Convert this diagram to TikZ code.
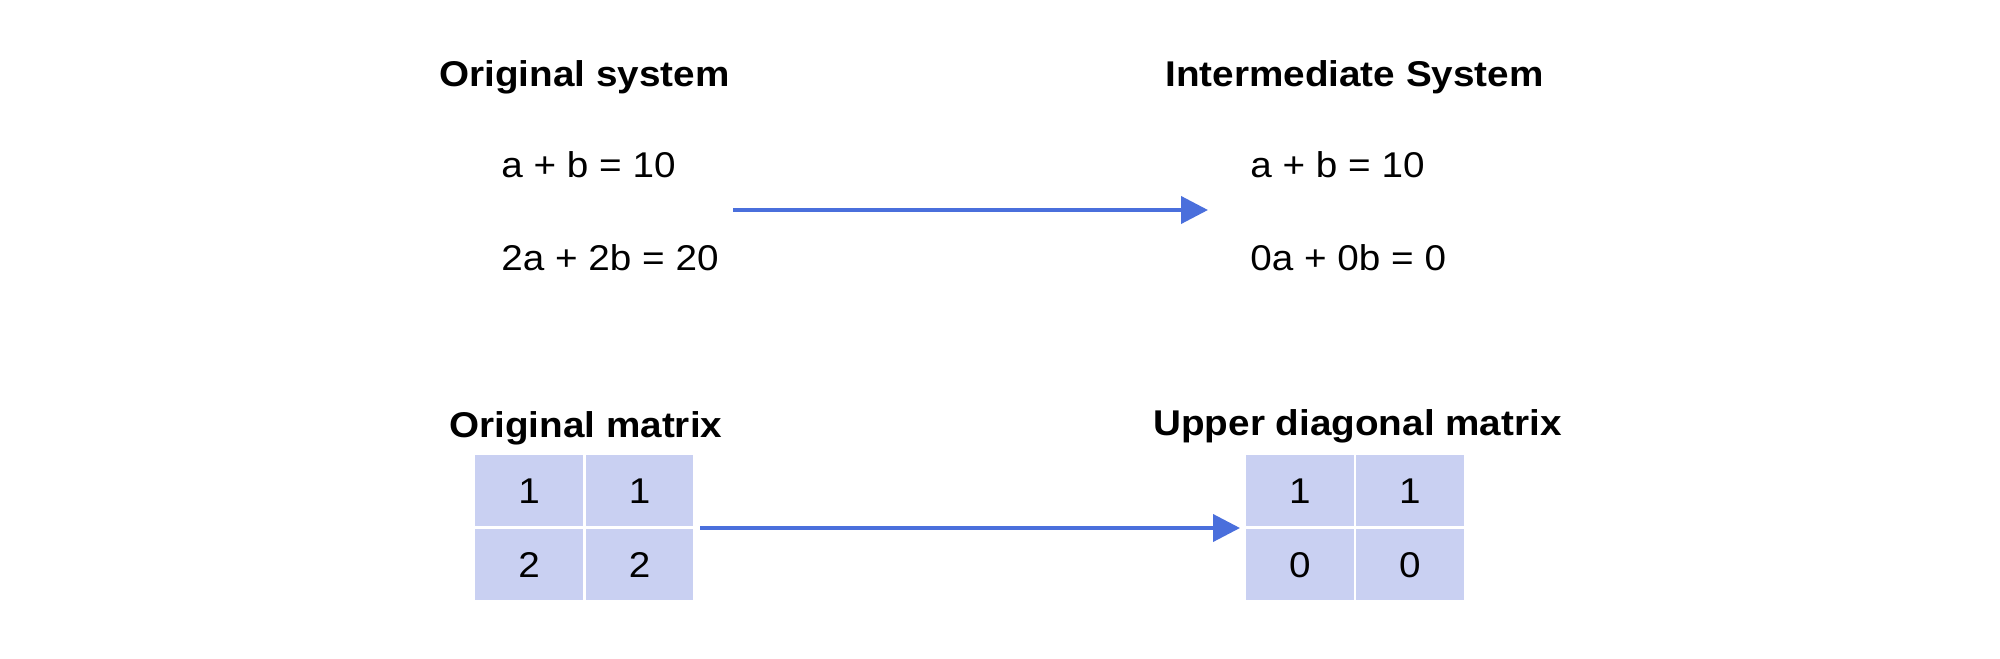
\documentclass[tikz,border=0pt]{standalone}
\usepackage{fontspec}
\setmainfont[FakeStretch=1.08]{Liberation Sans}
\usetikzlibrary{arrows.meta}
\definecolor{arrowblue}{HTML}{4A6FDC}
\definecolor{cellfill}{HTML}{C9D0F2}
\begin{document}
\begin{tikzpicture}[x=0.5pt,y=-0.5pt,
  txt/.style={inner sep=0pt, anchor=base west, font=\fontsize{17.9pt}{21pt}\selectfont},
  ttl/.style={inner sep=0pt, anchor=base west, font=\fontsize{17.9pt}{21pt}\selectfont\bfseries},
  cell/.style={fill=cellfill, draw=none, inner sep=0pt, minimum width=53.75pt, minimum height=35.6pt, font=\fontsize{17.9pt}{21pt}\selectfont},
  flow/.style={draw=arrowblue, line width=2pt, -{Triangle[length=13.5pt,width=13.5pt]}}]
\useasboundingbox (0,0) rectangle (2000,658);
\fill[white] (0,0) rectangle (2000,658);
% top: systems
\node[ttl] (t1) at (439,87) {Original system};
\node[txt] (e1) at (501,177) {a + b = 10};
\node[txt] (e2) at (501,270) {2a + 2b = 20};
\node[ttl] (t2) at (1165,87) {Intermediate System};
\node[txt] (e3) at (1250,177) {a + b = 10};
\node[txt] (e4) at (1250,270) {0a + 0b = 0};
\coordinate (a1s) at (733,210);
\coordinate (a1e) at (1208,210);
\draw[flow] (a1s) -- (a1e);
% bottom: matrices
\node[ttl] (t3) at (449,437) {Original matrix};
\node[ttl] (t4) at (1153,435) {Upper diagonal matrix};
\node[cell] (l11) at (529,490.75) {1};
\node[cell] (l12) at (639.5,490.75) {1};
\node[cell] (l21) at (529,564.75) {2};
\node[cell] (l22) at (639.5,564.75) {2};
\node[cell] (r11) at (1299.75,490.75) {1};
\node[cell] (r12) at (1409.75,490.75) {1};
\node[cell] (r21) at (1299.75,564.75) {0};
\node[cell] (r22) at (1409.75,564.75) {0};
\coordinate (a2s) at (700,528);
\coordinate (a2e) at (1240,528);
\draw[flow] (a2s) -- (a2e);
\end{tikzpicture}
\end{document}
